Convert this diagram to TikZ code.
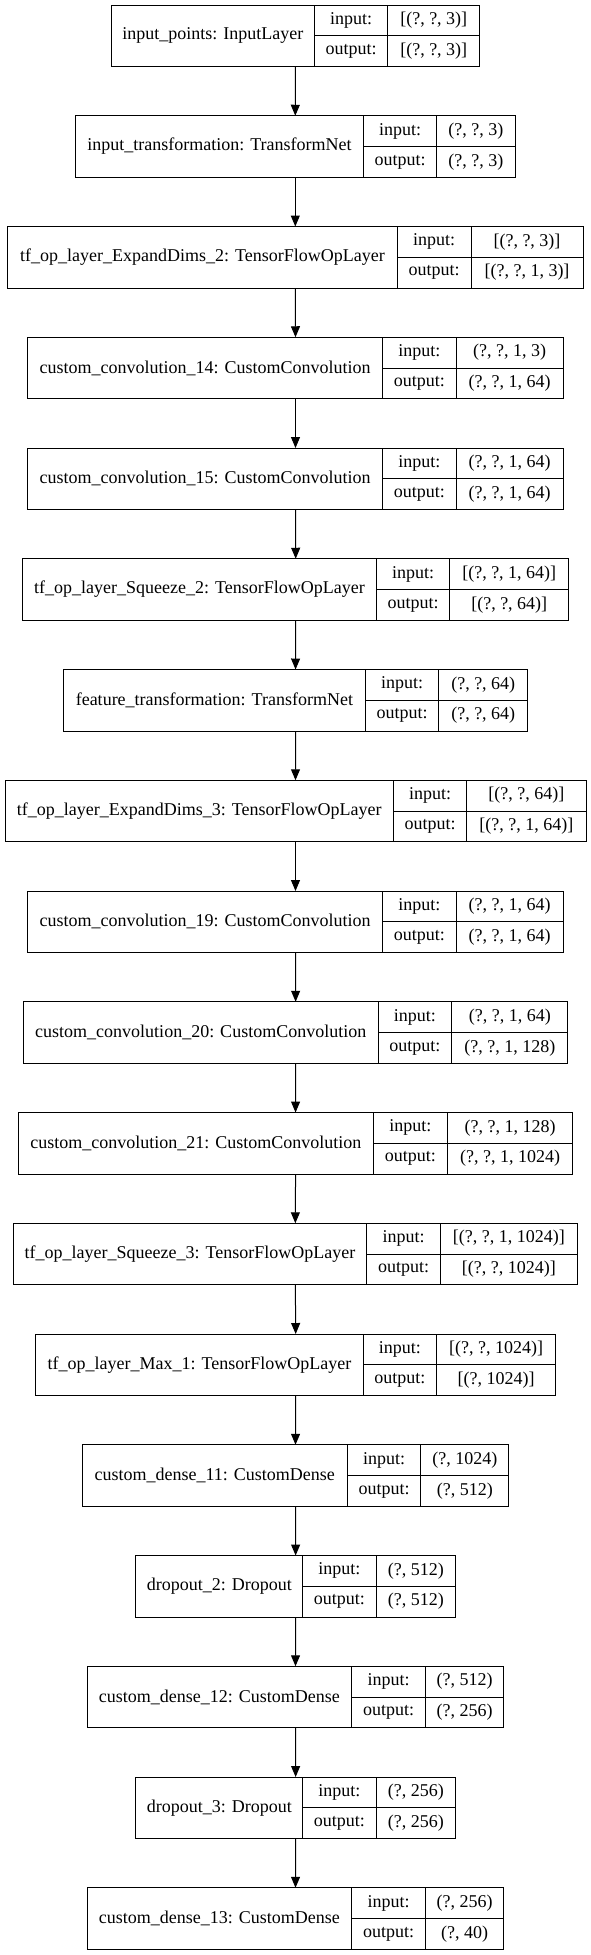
\documentclass[tikz,border=0pt]{standalone}
\usepackage{fontspec}
\setmainfont{Liberation Serif}
\usetikzlibrary{arrows.meta}

\tikzset{
  cell/.style={draw, line width=1pt, inner sep=0pt, outer sep=0pt},
  flow/.style={line width=1pt, -{Triangle[length=11pt,width=9pt]}}
}

% one layer row: name, top, left, port col, value col, right, label, in, out
\newcommand{\kbox}[9]{%
  \node[cell, minimum width={#6pt-#3pt}, minimum height=61.5pt] (#1) at ({(#3+#6)/2},{#2+30.75}) {};
  \node (#1-name) at ({(#3+#4)/2},{#2+30.75}) {#7};
  \node[cell, minimum width={#5pt-#4pt}, minimum height=30.75pt] (#1-pi) at ({(#4+#5)/2},{#2+15.375}) {input:};
  \node[cell, minimum width={#5pt-#4pt}, minimum height=30.75pt] (#1-po) at ({(#4+#5)/2},{#2+46.125}) {output:};
  \node[cell, minimum width={#6pt-#5pt}, minimum height=30.75pt] (#1-vi) at ({(#5+#6)/2},{#2+15.375}) {#8};
  \node[cell, minimum width={#6pt-#5pt}, minimum height=30.75pt] (#1-vo) at ({(#5+#6)/2},{#2+46.125}) {#9};
}

\begin{document}
\begin{tikzpicture}[x=1pt, y=-1pt, every node/.style={font=\fontsize{18}{22}\selectfont}]
  \useasboundingbox (0,0) rectangle (591,1955);
  \kbox{inpts}{5}{111.3}{314.3}{387.9}{479.6}{input\_points: InputLayer}{[(?, ?, 3)]}{[(?, ?, 3)]}
  \kbox{intf}{115.75}{75.5}{363.4}{436.6}{515.1}{input\_transformation: TransformNet}{(?, ?, 3)}{(?, ?, 3)}
  \kbox{exp2}{226.5}{7.6}{397.4}{471}{583}{tf\_op\_layer\_ExpandDims\_2: TensorFlowOpLayer}{[(?, ?, 3)]}{[(?, ?, 1, 3)]}
  \kbox{conv14}{337.25}{27.6}{382.5}{456}{563.4}{custom\_convolution\_14: CustomConvolution}{(?, ?, 1, 3)}{(?, ?, 1, 64)}
  \kbox{conv15}{448}{27.6}{382.5}{456}{563.4}{custom\_convolution\_15: CustomConvolution}{(?, ?, 1, 64)}{(?, ?, 1, 64)}
  \kbox{sq2}{558.75}{22.7}{376.3}{449.8}{568.7}{tf\_op\_layer\_Squeeze\_2: TensorFlowOpLayer}{[(?, ?, 1, 64)]}{[(?, ?, 64)]}
  \kbox{feattf}{669.5}{63.5}{365.3}{438.9}{527.6}{feature\_transformation: TransformNet}{(?, ?, 64)}{(?, ?, 64)}
  \kbox{exp3}{780.25}{5}{393.6}{466.8}{586}{tf\_op\_layer\_ExpandDims\_3: TensorFlowOpLayer}{[(?, ?, 64)]}{[(?, ?, 1, 64)]}
  \kbox{conv19}{891}{27.6}{382.5}{456}{563.4}{custom\_convolution\_19: CustomConvolution}{(?, ?, 1, 64)}{(?, ?, 1, 64)}
  \kbox{conv20}{1001.75}{23.4}{378.1}{451.7}{567.9}{custom\_convolution\_20: CustomConvolution}{(?, ?, 1, 64)}{(?, ?, 1, 128)}
  \kbox{conv21}{1112.5}{18.2}{373.6}{447.2}{572.9}{custom\_convolution\_21: CustomConvolution}{(?, ?, 1, 128)}{(?, ?, 1, 1024)}
  \kbox{sq3}{1223.25}{13.3}{366.8}{440.4}{577.4}{tf\_op\_layer\_Squeeze\_3: TensorFlowOpLayer}{[(?, ?, 1, 1024)]}{[(?, ?, 1024)]}
  \kbox{max1}{1334}{35.9}{363}{436.6}{555.5}{tf\_op\_layer\_Max\_1: TensorFlowOpLayer}{[(?, ?, 1024)]}{[(?, 1024)]}
  \kbox{dense11}{1444.75}{82.3}{347.2}{420.8}{508.7}{custom\_dense\_11: CustomDense}{(?, 1024)}{(?, 512)}
  \kbox{drop2}{1555.5}{135.9}{302.7}{376.2}{455.4}{dropout\_2: Dropout}{(?, 512)}{(?, 512)}
  \kbox{dense12}{1666.25}{87.2}{351.7}{425.3}{503.8}{custom\_dense\_12: CustomDense}{(?, 512)}{(?, 256)}
  \kbox{drop3}{1777}{135.9}{302.7}{376.2}{455.4}{dropout\_3: Dropout}{(?, 256)}{(?, 256)}
  \kbox{dense13}{1887.75}{87.2}{351.7}{425.3}{503.8}{custom\_dense\_13: CustomDense}{(?, 256)}{(?, 40)}

  \draw[flow] (inpts.south) -- (intf.north);
  \draw[flow] (intf.south) -- (exp2.north);
  \draw[flow] (exp2.south) -- (conv14.north);
  \draw[flow] (conv14.south) -- (conv15.north);
  \draw[flow] (conv15.south) -- (sq2.north);
  \draw[flow] (sq2.south) -- (feattf.north);
  \draw[flow] (feattf.south) -- (exp3.north);
  \draw[flow] (exp3.south) -- (conv19.north);
  \draw[flow] (conv19.south) -- (conv20.north);
  \draw[flow] (conv20.south) -- (conv21.north);
  \draw[flow] (conv21.south) -- (sq3.north);
  \draw[flow] (sq3.south) -- (max1.north);
  \draw[flow] (max1.south) -- (dense11.north);
  \draw[flow] (dense11.south) -- (drop2.north);
  \draw[flow] (drop2.south) -- (dense12.north);
  \draw[flow] (dense12.south) -- (drop3.north);
  \draw[flow] (drop3.south) -- (dense13.north);
\end{tikzpicture}
\end{document}
